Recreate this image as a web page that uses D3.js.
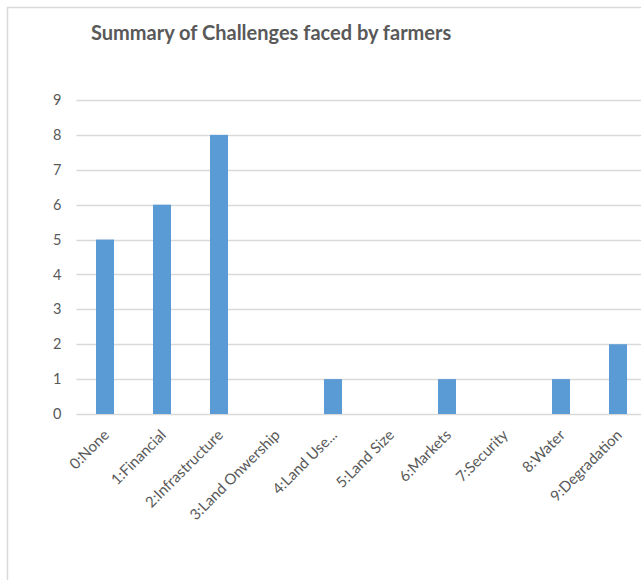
<!DOCTYPE html>
<html>
<head>
<meta charset="utf-8">
<script src="https://cdn.jsdelivr.net/npm/d3@7"></script>
<style>
  html, body { margin: 0; padding: 0; background: #fff; }
  svg { display: block; }
</style>
</head>
<body>
<svg id="chart" width="641" height="580"></svg>
<script>
// Challenge categories and how many farmers reported each
const categories = ["0:None", "1:Financial", "2:Infrastructure", "3:Land Onwership", "4:Land Use...",
                    "5:Land Size", "6:Markets", "7:Security", "8:Water", "9:Degradation"];
const counts = [5, 6, 8, 0, 1, 0, 1, 0, 1, 2];
const yTicks = [0, 1, 2, 3, 4, 5, 6, 7, 8, 9];
const title = "Summary of Challenges faced by farmers";

const svg = d3.select("#chart");
const textColor = "#595959";
const gridColor = "#d9d9d9";
const font = "Lato, sans-serif";

// Outer chart frame
svg.append("rect")
  .attr("x", 7.5).attr("y", 7.5)
  .attr("width", 700).attr("height", 700)
  .attr("fill", "#fff")
  .attr("stroke", "#d9d9d9").attr("stroke-width", 1.5);

const plot = { left: 76.5, right: 646.5, top: 100, bottom: 414 };

const x = d3.scaleBand()
  .domain(categories)
  .range([plot.left, plot.right])
  .paddingInner(0.684)
  .paddingOuter(0.342);

const y = d3.scaleLinear()
  .domain([0, 9])
  .range([plot.bottom, plot.top]);

// Title
svg.append("text")
  .attr("x", 91).attr("y", 40)
  .style("font-family", font)
  .style("font-weight", "bold")
  .style("font-size", "20px")
  .attr("fill", textColor)
  .text(title);

// Horizontal gridlines
svg.append("g")
  .selectAll("line")
  .data(yTicks)
  .join("line")
  .attr("x1", plot.left).attr("x2", 641)
  .attr("y1", d => Math.round(y(d)) + 0.5)
  .attr("y2", d => Math.round(y(d)) + 0.5)
  .attr("stroke", gridColor)
  .attr("stroke-width", 1.5);

// Y axis labels
const yAxis = d3.axisLeft(y).tickValues(yTicks).tickSize(0).tickPadding(15);
const gy = svg.append("g")
  .attr("transform", `translate(${plot.left},0)`)
  .call(yAxis);
gy.select(".domain").remove();
gy.selectAll("text")
  .style("font-family", font)
  .style("font-size", "14.5px")
  .attr("fill", textColor);

// Bars
svg.append("g")
  .selectAll("rect")
  .data(counts)
  .join("rect")
  .attr("x", (d, i) => x(categories[i]))
  .attr("y", d => y(d))
  .attr("width", x.bandwidth())
  .attr("height", d => y(0) - y(d))
  .attr("fill", "#5b9bd5");

// X axis with rotated category labels
const xAxis = d3.axisBottom(x).tickSize(0).tickPadding(0);
const gx = svg.append("g")
  .attr("transform", `translate(0,${plot.bottom})`)
  .call(xAxis);
gx.select(".domain").remove();
gx.selectAll("text")
  .style("font-family", font)
  .style("font-size", "15px")
  .attr("fill", textColor)
  .attr("text-anchor", "end")
  .attr("dy", null)
  .attr("transform", "translate(5,22) rotate(-45)");
</script>
</body>
</html>
